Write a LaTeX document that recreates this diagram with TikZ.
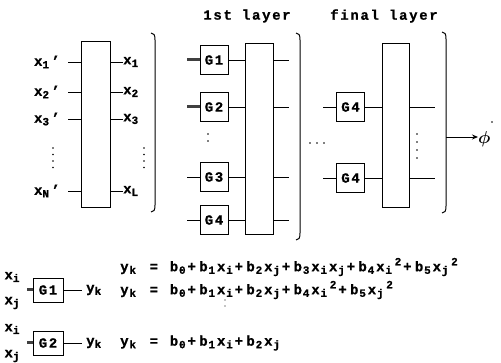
\documentclass[tikz,border=0pt]{standalone}
\usepackage{amsmath}
\usepackage{fontspec}
\setmainfont{Liberation Mono}[LetterSpace=12, BoldFeatures={FakeBold=0.8}]
\usetikzlibrary{arrows.meta}
\newcommand{\sbs}[1]{\raisebox{-0.35ex}{\fontsize{11}{11}\selectfont #1}}
\newcommand{\spr}[1]{\raisebox{0.8ex}{\fontsize{11}{11}\selectfont #1}}
\newcommand{\esb}[1]{\kern0.8pt\relax\raisebox{-0.35ex}{\fontsize{11}{11}\selectfont #1}\kern1.9pt\relax}
\newcommand{\esp}[1]{\kern0.8pt\relax\raisebox{0.8ex}{\fontsize{11}{11}\selectfont #1}\kern1.9pt\relax}
\begin{document}
\begin{tikzpicture}[x=1pt,y=-1pt,
  txt/.style={font=\fontsize{14}{14}\selectfont\bfseries, inner sep=0pt},
  eqn/.style={font=\fontsize{14}{14}\selectfont\bfseries\addfontfeatures{LetterSpace=24}, inner sep=0pt},
  gbox/.style={draw, line width=0.9pt, minimum width=28pt, minimum height=29pt, inner sep=0pt, font=\fontsize{14}{14}\selectfont\bfseries},
  bigbox/.style={draw, line width=0.9pt, inner sep=0pt},
  wire/.style={line width=0.9pt},
  dwire/.style={line width=3pt, black!75},
  brk/.style={line width=1pt}
]
\useasboundingbox (0,0) rectangle (501,363);

% ---------- input block ----------
\node[bigbox, minimum width=29pt, minimum height=166pt] (L) at (95.5,124) {};
\node[txt, anchor=east] (a1) at (60,62) {x\sbs{1}\,'};
\node[txt, anchor=east] (a2) at (60,92) {x\sbs{2}\,'};
\node[txt, anchor=east] (a3) at (60,119) {x\sbs{3}\,'};
\node[txt, anchor=east] (aN) at (60,191) {x\sbs{N}\,'};
\foreach \n in {a1,a2,a3,aN} \draw[wire] ([xshift=8pt]\n.east) -- (L.west |- \n.east);
\node[txt, anchor=west] (b1) at (123,62) {x\sbs{1}};
\node[txt, anchor=west] (b2) at (123,92) {x\sbs{2}};
\node[txt, anchor=west] (b3) at (123,119) {x\sbs{3}};
\node[txt, anchor=west] (bL) at (123,191) {x\sbs{L}};
\foreach \n in {b1,b2,b3,bL} \draw[wire] (L.east |- \n.west) -- (\n.west);
\foreach \y in {148,154.5,161,167.5} {\fill (53,\y) circle (0.9pt); \fill (144,\y) circle (0.9pt);}
\draw[brk] (151,33) .. controls (154,33) and (155,35) .. (155,40) -- (155,205) .. controls (155,210) and (154,212) .. (151,212);

% ---------- first layer ----------
\node[txt] (t1) at (247,16) {1st layer};
\node[bigbox, minimum width=28pt, minimum height=191pt] (M) at (259,138.5) {};
\node[gbox] (g1) at (214,60) {G1};
\node[gbox] (g2) at (214,107) {G2};
\node[gbox] (g3) at (214,177) {G3};
\node[gbox] (g4) at (214,220) {G4};
\coordinate (i1) at (187,60); \coordinate (i2) at (187,107);
\coordinate (i3) at (187,177); \coordinate (i4) at (187,220);
\draw[dwire] (i1) -- (g1.west);
\draw[dwire] (i2) -- (g2.west);
\draw[wire] (i3) -- (g3.west);
\draw[wire] (i4) -- (g4.west);
\foreach \g in {g1,g2,g3,g4} \draw[wire] (\g.east) -- (M.west |- \g.east);
\coordinate (o1) at (289,60); \coordinate (o2) at (289,107);
\coordinate (o3) at (289,177); \coordinate (o4) at (289,220);
\foreach \o in {o1,o2,o3,o4} \draw[wire] (M.east |- \o) -- (\o);
\fill (208,134) circle (0.9pt); \fill (208,141) circle (0.9pt);
\draw[brk] (296,33) .. controls (299,33) and (300,35) .. (300,40) -- (300,233) .. controls (300,238) and (299,240) .. (296,240);
\foreach \x in {310,317,324} \fill (\x,143) circle (0.9pt);

% ---------- final layer ----------
\node[txt] (t2) at (384,16) {final layer};
\node[bigbox, minimum width=27pt, minimum height=164pt] (F) at (395.5,125) {};
\node[gbox] (h1) at (350.5,107) {G4};
\node[gbox] (h2) at (350.5,178) {G4};
\coordinate (j1) at (323,107); \coordinate (j2) at (323,178);
\draw[wire] (j1) -- (h1.west);
\draw[wire] (j2) -- (h2.west);
\draw[wire] (h1.east) -- (F.west |- h1.east);
\draw[wire] (h2.east) -- (F.west |- h2.east);
\coordinate (p1) at (435,107); \coordinate (p2) at (435,178);
\draw[wire] (F.east |- p1) -- (p1);
\draw[wire] (F.east |- p2) -- (p2);
\foreach \y in {134,142,150,158} \fill (417,\y) circle (0.9pt);
\draw[brk] (442,32) .. controls (445,32) and (446,34) .. (446,39) -- (446,206) .. controls (446,211) and (445,213) .. (442,213);
\coordinate (bo) at (446,137);
\node[anchor=west, inner sep=0pt, font=\fontsize{17}{17}\selectfont] (phi) at (478,139) {$\boldsymbol{\phi}$};
\fill (492,122) circle (0.8pt);
\draw[wire, -{Stealth[length=6pt,width=5pt]}] (bo) -- (phi.west |- bo);

% ---------- bottom examples ----------
\node[gbox, minimum width=30pt, minimum height=24pt] (s1) at (48,290) {G1};
\node[txt] (s1i) at (12,277) {x\sbs{i}};
\node[txt] (s1j) at (12,303) {x\sbs{j}};
\coordinate (s1c) at (27,290);
\draw[dwire] (s1c) -- (s1.west);
\node[txt, anchor=west] (s1y) at (86,290) {y\sbs{k}};
\draw[wire] (s1.east) -- ([xshift=-4pt]s1y.west);

\node[gbox, minimum width=30pt, minimum height=24pt] (s2) at (48,343) {G2};
\node[txt] (s2i) at (12,329) {x\sbs{i}};
\node[txt] (s2j) at (12,356) {x\sbs{j}};
\coordinate (s2c) at (27,343);
\draw[dwire] (s2c) -- (s2.west);
\node[txt, anchor=west] (s2y) at (86,343) {y\sbs{k}};
\draw[wire] (s2.east) -- ([xshift=-4pt]s2y.west);

\node[eqn, anchor=west] (e1) at (120,267) {y\esb{k} = b\esb{0}+b\esb{1}x\esb{i}+b\esb{2}x\esb{j}+b\esb{3}x\esb{i}x\esb{j}+b\esb{4}x\esb{i}\esp{2}+b\esb{5}x\esb{j}\esp{2}};
\node[eqn, anchor=west] (e2) at (120,290) {y\esb{k} = b\esb{0}+b\esb{1}x\esb{i}+b\esb{2}x\esb{j}+b\esb{4}x\esb{i}\esp{2}+b\esb{5}x\esb{j}\esp{2}};
\node[eqn, anchor=west] (e3) at (120,343) {y\esb{k} = b\esb{0}+b\esb{1}x\esb{i}+b\esb{2}x\esb{j}};
\fill (225,300) circle (0.6pt); \fill (225,306) circle (0.6pt);
\end{tikzpicture}
\end{document}
